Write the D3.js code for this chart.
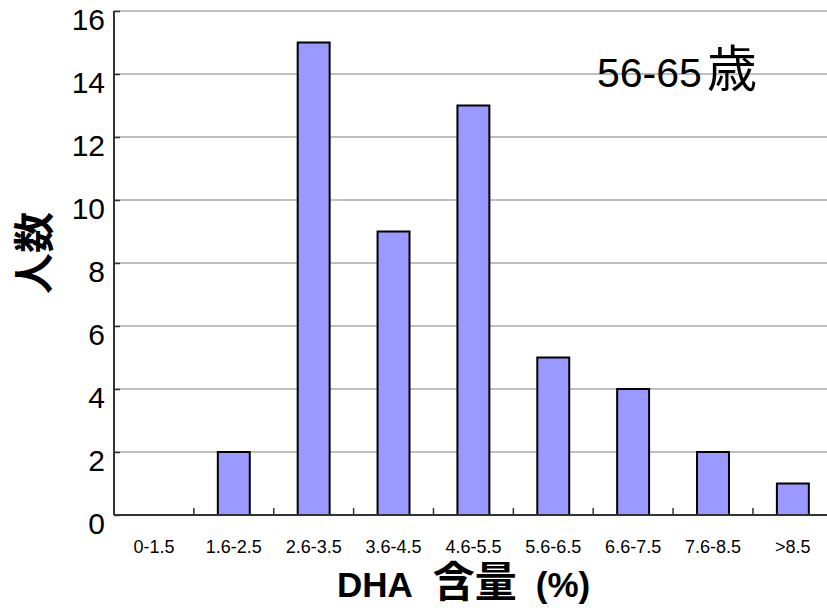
<!DOCTYPE html>
<html><head><meta charset="utf-8">
<script src="https://cdn.jsdelivr.net/npm/d3@7"></script>
<style>body{margin:0;background:#fff}svg{display:block}</style>
</head><body>
<svg id="c" width="827" height="610"></svg>
<script>
const categories = ["0-1.5","1.6-2.5","2.6-3.5","3.6-4.5","4.6-5.5","5.6-6.5","6.6-7.5","7.6-8.5",">8.5"];
const counts = [0,2,15,9,13,5,4,2,1];
const yTicks = [0,2,4,6,8,10,12,14,16];
const titleParts = ["56-65","歳"];
const xTitleParts = ["DHA","含量","(%)"];
const yTitle = "人数";

const svg = d3.select("#c");
const m = {left:114, top:11, right:832.8, bottom:515};
const x = d3.scaleBand().domain(categories).range([m.left, m.right]).paddingInner(0).paddingOuter(0);
const y = d3.scaleLinear().domain([0,16]).range([m.bottom, m.top]);
const font = "Liberation Sans, Arial, sans-serif";
const cjk = "Noto Sans CJK JP, Noto Sans CJK SC, sans-serif";

// gridlines
svg.append("g").selectAll("line").data(yTicks.filter(d=>d>0)).join("line")
  .attr("x1", m.left).attr("x2", 827).attr("y1", d=>y(d)).attr("y2", d=>y(d))
  .attr("stroke","#808080").attr("stroke-width",1.2);

// bars
const bw = x.bandwidth()*0.4;
svg.append("g").selectAll("rect").data(counts.map((v,i)=>({c:categories[i],v})).filter(d=>d.v>0)).join("rect")
  .attr("x", d=>x(d.c)+x.bandwidth()/2-bw/2).attr("width", bw)
  .attr("y", d=>y(d.v)).attr("height", d=>y(0)-y(d.v))
  .attr("fill","#9999FF").attr("stroke","#000").attr("stroke-width",2);

// y axis
const ya = svg.append("g").attr("transform",`translate(${m.left},0)`)
  .call(d3.axisLeft(y).tickValues(yTicks).tickSize(-6).tickPadding(9));
ya.select(".domain").attr("stroke","#333").attr("stroke-width",2).attr("d",`M0,${m.bottom}V${m.top}`);
ya.selectAll(".tick line").attr("stroke","#333").attr("stroke-width",1.5);
ya.selectAll(".tick text").attr("font-family",font).attr("font-size",30).attr("fill","#000")
  .attr("dy",null).attr("y",18.5);

// x axis
const xa = svg.append("g").attr("transform",`translate(0,${m.bottom})`)
  .call(d3.axisBottom(x).tickSize(0).tickPadding(0));
xa.select(".domain").remove();
svg.append("line").attr("x1",m.left).attr("x2",827).attr("y1",m.bottom).attr("y2",m.bottom)
  .attr("stroke","#333").attr("stroke-width",2);
xa.selectAll(".tick text").attr("font-family",font).attr("font-size",18).attr("fill","#000")
  .attr("dy",null).attr("y",38);
// tick marks between bands
svg.append("g").selectAll("line").data(categories.slice(1)).join("line")
  .attr("x1",d=>x(d)).attr("x2",d=>x(d)).attr("y1",m.bottom).attr("y2",m.bottom-7)
  .attr("stroke","#333").attr("stroke-width",1.5);

// chart title
const t = svg.append("text").attr("x",597).attr("y",87).attr("fill","#000");
t.append("tspan").attr("font-family",font).attr("font-size",41).text(titleParts[0]);
t.append("tspan").attr("font-family",cjk).attr("font-size",50).attr("dx",5).text(titleParts[1]);

// x title
const xt = svg.append("text").attr("x",337).attr("y",597).attr("fill","#000").attr("font-weight","bold");
xt.append("tspan").attr("font-family",font).attr("font-size",35).text(xTitleParts[0]);
xt.append("tspan").attr("font-family",cjk).attr("font-size",42).attr("dx",20).text(xTitleParts[1]);
xt.append("tspan").attr("font-family",font).attr("font-size",35).attr("dx",19).text(xTitleParts[2]);

// y title
svg.append("text").attr("transform","translate(49,253) rotate(-90)").attr("text-anchor","middle")
  .attr("font-family",cjk).attr("font-weight","bold").attr("font-size",41)
  .attr("fill","#000").text(yTitle);
</script>
</body></html>
